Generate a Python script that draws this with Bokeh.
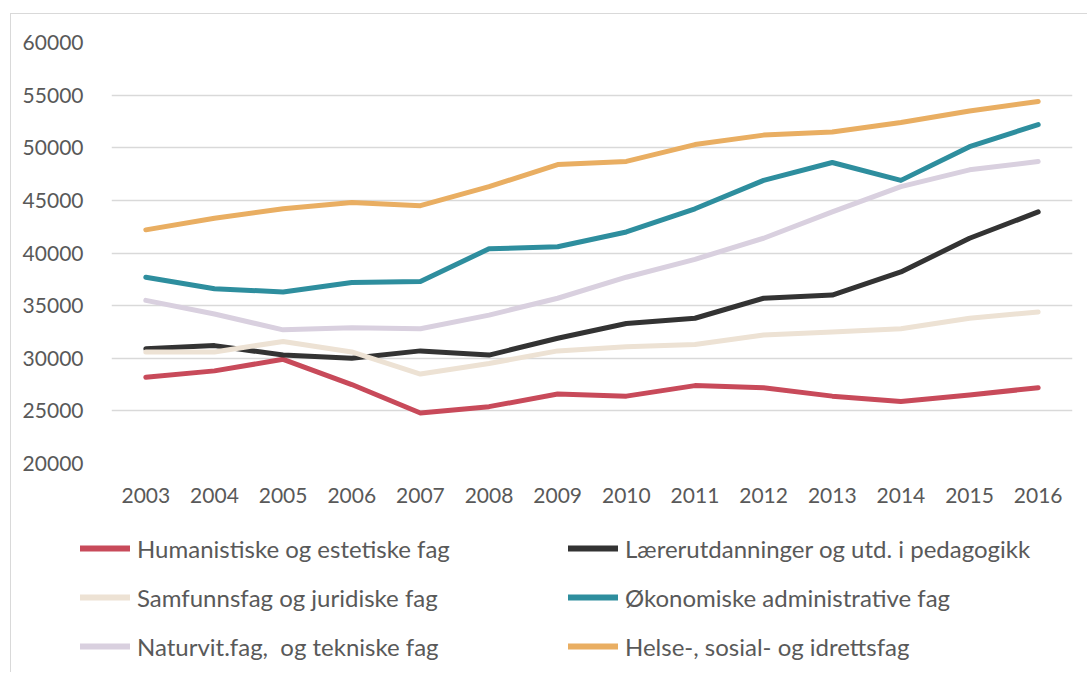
from bokeh.plotting import figure
from bokeh.models import Range1d, FixedTicker, Legend, LegendItem
from bokeh.embed import file_html
from bokeh.resources import INLINE

years = list(range(2003, 2017))
humanistiske = [28200, 28800, 29900, 27500, 24800, 25400, 26600, 26400, 27400, 27200, 26400, 25900, 26500, 27200]
laerer = [30900, 31200, 30300, 30000, 30700, 30300, 31900, 33300, 33800, 35700, 36000, 38200, 41400, 43900]
samfunn = [30600, 30600, 31600, 30600, 28500, 29500, 30700, 31100, 31300, 32200, 32500, 32800, 33800, 34400]
okonomi = [37700, 36600, 36300, 37200, 37300, 40400, 40600, 42000, 44200, 46900, 48600, 46900, 50100, 52200]
naturvit = [35500, 34200, 32700, 32900, 32800, 34100, 35700, 37700, 39400, 41400, 43900, 46300, 47900, 48700]
helse = [42200, 43300, 44200, 44800, 44500, 46300, 48400, 48700, 50300, 51200, 51500, 52400, 53500, 54400]

names = ["Humanistiske og estetiske fag", "Lærerutdanninger og utd. i pedagogikk",
         "Samfunnsfag og juridiske fag", "Økonomiske administrative fag",
         "Naturvit.fag,  og tekniske fag", "Helse-, sosial- og idrettsfag"]
series = [humanistiske, laerer, samfunn, okonomi, naturvit, helse]
colors = ["#C84A5A", "#333333", "#EDE2D4", "#2E8E9E", "#D9D0DF", "#E9AE62"]

FONT = "Lato"
TXT = "#595959"

p = figure(width=1077, height=511, output_backend="svg", toolbar_location=None,
           x_range=Range1d(2002.5, 2016.5), y_range=Range1d(20000, 60000),
           min_border_left=100, min_border_right=16, min_border_top=28, min_border_bottom=62)
p.outline_line_color = None
p.xgrid.grid_line_color = None
p.ygrid.grid_line_color = "#D9D9D9"
p.ygrid.grid_line_width = 1.5

for ax in (p.xaxis, p.yaxis):
    ax.axis_line_color = None
    ax.major_tick_line_color = None
    ax.minor_tick_line_color = None
    ax.major_label_text_font = FONT
    ax.major_label_text_font_size = "21px"
    ax.major_label_text_color = TXT
p.xaxis.ticker = FixedTicker(ticks=years)
p.yaxis.ticker = FixedTicker(ticks=list(range(20000, 60001, 5000)))
p.yaxis.major_label_standoff = 22
p.xaxis.major_label_standoff = 18

for i in range(6):
    p.line(years, series[i], line_color=colors[i], line_width=5,
           line_cap="round", line_join="round")

# legend panel: same series, drawn outside its (hidden) view, only for the legend keys
q = figure(width=1077, height=148, output_backend="svg", toolbar_location=None,
           x_range=Range1d(0, 1), y_range=Range1d(0, 1),
           x_axis_location=None, y_axis_location=None,
           min_border=0, min_border_left=0, min_border_right=0,
           min_border_top=0, min_border_bottom=0)
q.grid.visible = False
q.outline_line_color = None

items = []
for i in range(6):
    r = q.line(years, series[i], line_color=colors[i], line_width=6, line_cap="round")
    items.append(LegendItem(label=names[i], renderers=[r]))

legend = Legend(items=items, ncols=2, orientation="horizontal",
                location=(69, 11), padding=0, margin=0, spacing=19,
                glyph_width=50, glyph_height=30, label_height=30, label_width=412,
                label_standoff=7, border_line_color=None, background_fill_alpha=0,
                label_text_font=FONT, label_text_font_size="24px", label_text_color=TXT)
q.add_layout(legend, "center")

p.styles = {"border-left": "1px solid #D9D9D9", "border-top": "1px solid #D9D9D9",
            "margin-left": "10px", "margin-top": "13px"}
q.styles = {"border-left": "1px solid #D9D9D9", "margin-left": "10px"}

open("out.html", "w").write(file_html((p, q), INLINE))
